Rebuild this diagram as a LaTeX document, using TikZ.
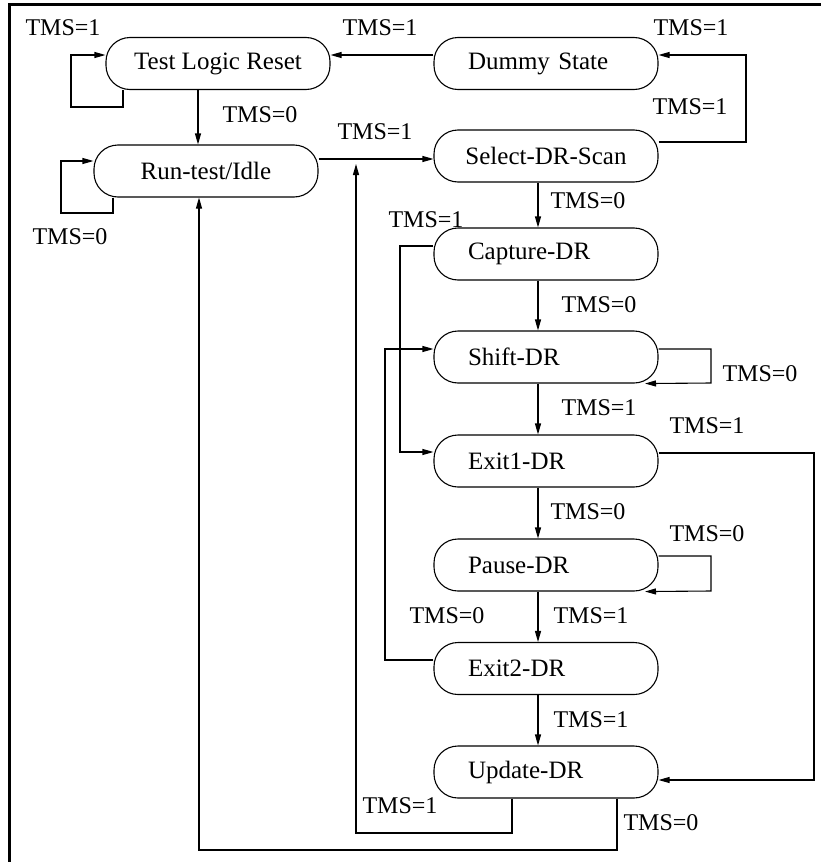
\documentclass[tikz,border=0pt]{standalone}
\usepackage{fontspec}
\setmainfont{Liberation Serif}
\usepackage{tikz}
\usetikzlibrary{arrows.meta}

\tikzset{
  state/.style={draw, rounded corners=24pt, minimum width=224pt, minimum height=52pt, inner sep=0pt,
    font=\fontsize{25}{29}\selectfont},
  drstate/.style={state, text width=156pt, align=left, inner xsep=34pt},
  tms/.style={inner sep=0pt},
  arr/.style={->, >={Triangle[length=11pt,width=6pt]}},
}

\begin{document}
\begin{tikzpicture}[x=1pt,y=1pt,yscale=-1,xscale=1,line width=1.1pt,
  font=\fontsize{24}{28}\selectfont]
      \useasboundingbox (0,0) rectangle (821,862);
      \draw [line width=3pt] (9.5,862) -- (9.5,4.5) -- (821,4.5) ;
      % states
      \node (tlr)   at (218,63.5) [state]   {Test Logic Reset};
      \node (dummy) at (546,63.5) [drstate] {Dummy State};
      \node (rti)   at (206,171)  [state]   {Run-test/Idle};
      \node (sel)   at (546,156)  [state]   {Select-DR-Scan};
      \node (cap)   at (546,254)  [drstate] {Capture-DR};
      \node (shift) at (546,357)  [drstate] {Shift-DR};
      \node (exa)   at (546,461)  [drstate] {Exit1-DR};
      \node (pause) at (546,565)  [drstate] {Pause-DR};
      \node (exb)   at (546,668.5)[drstate] {Exit2-DR};
      \node (upd)   at (546,772)  [drstate] {Update-DR};
      % transitions
      \draw [arr] (tlr.south -| 123,0) |- (71,107) |- (tlr.west |- 0,55) ;
      \draw [arr] (tlr.south -| 198,0) -- (rti.north -| 198,0) ;
      \draw [arr] (rti.south -| 113,0) |- (61,213) |- (rti.west |- 0,161) ;
      \draw [arr] (dummy.west |- 0,55) -- (tlr.east |- 0,55) ;
      \draw [arr] (sel.east |- 0,142) -| (746,55) -- (dummy.east |- 0,55) ;
      \draw [arr] (rti.east |- 0,159) -- (sel.west |- 0,159) ;
      \draw [arr] (sel.south -| 538,0) -- (cap.north -| 538,0) ;
      \draw [arr] (cap.west |- 0,246) -| (400,452) -- (exa.west |- 0,452) ;
      \draw [arr] (cap.south -| 538,0) -- (shift.north -| 538,0) ;
      \draw [arr] (shift.east |- 0,349) -| (711,383) -- (shift.south -| 645,0) ;
      \draw [arr] (shift.south -| 538,0) -- (exa.north -| 538,0) ;
      \draw [arr] (exa.east |- 0,453) -| (814,780) -- (upd.east |- 0,780) ;
      \draw [arr] (exa.south -| 538,0) -- (pause.north -| 538,0) ;
      \draw [arr] (pause.east |- 0,556) -| (711,591) -- (pause.south -| 645,0) ;
      \draw [arr] (pause.south -| 538,0) -- (exb.north -| 538,0) ;
      \draw [arr] (exb.west |- 0,660) -| (385,349) -- (shift.west |- 0,349) ;
      \draw [arr] (exb.south -| 538,0) -- (upd.north -| 538,0) ;
      \coordinate (selin) at (356,164) ;
      \draw [arr] (upd.south -| 512,0) |- (356,833) -- (selin) ;
      \draw [arr] (upd.south -| 617,0) |- (199,850) -- (rti.south -| 199,0) ;
      % labels
      \node (la) at (63,28)   [tms] {TMS=1};
      \node (lb) at (260,115) [tms] {TMS=0};
      \node (lc) at (70,237)  [tms] {TMS=0};
      \node (ld) at (380,28)  [tms] {TMS=1};
      \node (le) at (691,28)  [tms] {TMS=1};
      \node (lf) at (690,107) [tms] {TMS=1};
      \node (lg) at (375,132) [tms] {TMS=1};
      \node (lh) at (588,201) [tms] {TMS=0};
      \node (li) at (426,220) [tms] {TMS=1};
      \node (lj) at (599,305) [tms] {TMS=0};
      \node (lk) at (760,374) [tms] {TMS=0};
      \node (ll) at (599,408) [tms] {TMS=1};
      \node (lm) at (707,426) [tms] {TMS=1};
      \node (ln) at (588,512) [tms] {TMS=0};
      \node (lo) at (707,534) [tms] {TMS=0};
      \node (lp) at (591,616) [tms] {TMS=1};
      \node (lq) at (447,616) [tms] {TMS=0};
      \node (lr) at (591,720) [tms] {TMS=1};
      \node (ls) at (400,806) [tms] {TMS=1};
      \node (lt) at (661,823) [tms] {TMS=0};
\end{tikzpicture}
\end{document}
